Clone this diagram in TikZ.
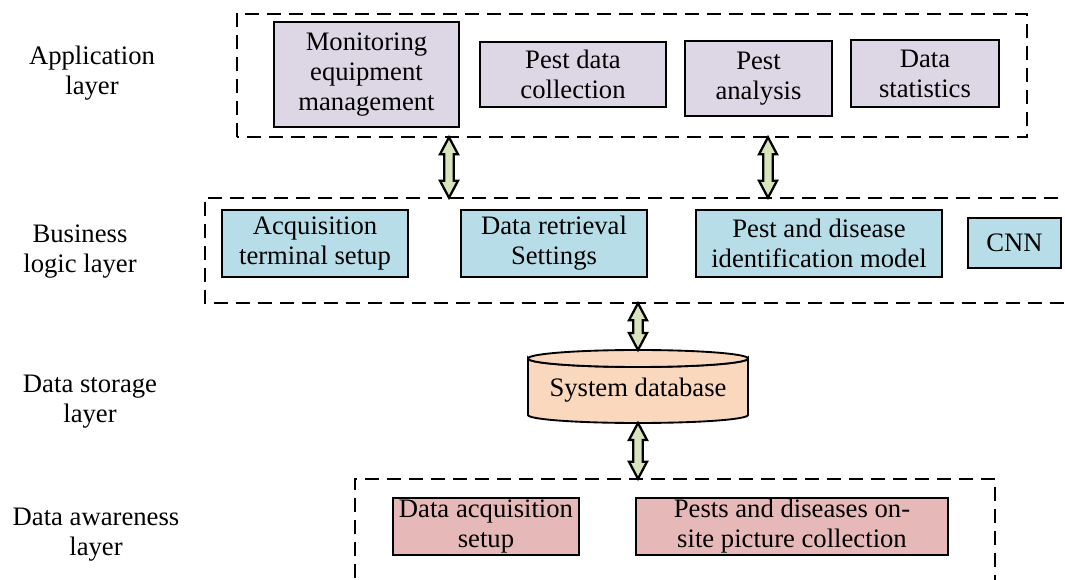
\documentclass[tikz,border=0pt]{standalone}
\usepackage{fontspec}
\setmainfont{Liberation Serif}
\usetikzlibrary{fit,calc}
\definecolor{appc}{RGB}{221,215,229}
\definecolor{busc}{RGB}{183,222,232}
\definecolor{dbc}{RGB}{250,216,190}
\definecolor{awc}{RGB}{230,185,184}
\definecolor{arrc}{RGB}{216,228,188}
\tikzset{
  every node/.style={font=\fontsize{20}{22.5}\selectfont},
  pbox/.style={draw=black, line width=1.4pt, inner sep=0pt, align=center},
  appbox/.style={pbox, fill=appc},
  busbox/.style={pbox, fill=busc},
  awbox/.style={pbox, fill=awc},
  layerbox/.style={inner sep=0pt},
  dashbox/.style={draw=black, line width=1.8pt, dash pattern=on 10.5pt off 6pt},
  arr/.style={draw=black, line width=1.7pt, fill=arrc, line join=miter},
  lbl/.style={align=center},
  cyl/.style={draw=black, line width=1.4pt, fill=dbc}
}
% name, center, width(px), height(px), style, text
\newcommand\boxat[6]{\node[#5, minimum width={#3*0.75pt}, minimum height={#4*0.75pt}] (#1) at (#2) {#6};}
\newcommand\dblarrow[2]{%
  \draw[arr] (#1) -- ++(9,17) -- ++(-4.2,0) -- ($(#2)+(4.8,-17)$) -- ++(4.2,0) -- (#2)
    -- ++(-9,-17) -- ++(4.2,0) -- ($(#1)+(-4.8,17)$) -- ++(-4.2,0) -- cycle;}
\begin{document}
\begin{tikzpicture}[x=0.75pt, y=-0.75pt]
\useasboundingbox (0,0) rectangle (1065,580);

% layer frames
\node[layerbox, fit={(237,14) (1027,137)}] (app) {};
\node[layerbox, fit={(205,198) (1080,303)}] (bus) {};
\node[layerbox, fit={(355,479) (995,600)}] (aw) {};
\draw[dashbox] (app.south west) rectangle (app.north east);
\draw[dashbox] (bus.north east) -- (bus.north west) -- (bus.south west) -- (bus.south east);
\draw[dashbox] (aw.south west) -- (aw.north west) -- (aw.north east) -- (aw.south east);

% layer labels
\node[lbl] (lapp) at (92,73) {Application\\layer};
\node[lbl] (lbus) at (80,252) {Business\\logic layer};
\node[lbl] (lds) at (90,402) {Data storage\\layer};
\node[lbl] (law) at (96,535) {Data awareness\\layer};

% application layer
\boxat{mon}{366.5,74.5}{185}{105}{appbox}{Monitoring\\equipment\\management}
\boxat{pdc}{573,74.5}{186}{65}{appbox}{Pest data\\collection}
\boxat{pa}{758.5,78.5}{147}{75}{appbox}{Pest\\analysis}
\boxat{ds}{925,73.5}{148}{67}{appbox}{Data\\statistics}

% business logic layer
\boxat{acq}{315,243.5}{186}{67}{busbox}{Acquisition\\terminal setup}
\boxat{drs}{554,243.5}{186}{67}{busbox}{Data retrieval\\Settings}
\boxat{pdim}{819,243.5}{246}{67}{busbox}{Pest and disease\\identification model}
\boxat{cnn}{1014.5,243}{93}{50}{busbox}{CNN}

% data storage
\coordinate (dbc) at (638,390);
\coordinate (dbtop) at ($(dbc)+(0,-40)$);
\coordinate (dbbot) at ($(dbc)+(0,33)$);
\draw[cyl] ($(dbc)+(-110,-31.5)$) -- ($(dbc)+(-110,25)$)
  arc[start angle=180, end angle=0, x radius=110, y radius=8]
  -- ($(dbc)+(110,-31.5)$)
  arc[start angle=0, end angle=180, x radius=110, y radius=8.5] -- cycle;
\draw[cyl] ($(dbc)+(0,-31.5)$) ellipse[x radius=110, y radius=8.5];
\node[inner sep=0pt] (db) at (dbc) {System database};

% data awareness layer
\boxat{das}{486,526.5}{186}{57}{awbox}{Data acquisition\\setup}
\boxat{ppc}{792,526.5}{312}{57}{awbox}{Pests and diseases on-\\site picture collection}

% connectors
\coordinate (x1) at (449,0);
\coordinate (x2) at (768,0);
\coordinate (x3) at (638,0);
\coordinate (a1t) at (x1 |- app.south);
\coordinate (a1b) at (x1 |- bus.north);
\coordinate (a2t) at (x2 |- app.south);
\coordinate (a2b) at (x2 |- bus.north);
\coordinate (a3t) at (x3 |- bus.south);
\coordinate (a4b) at (x3 |- aw.north);
\dblarrow{a1t}{a1b}
\dblarrow{a2t}{a2b}
\dblarrow{a3t}{dbtop}
\dblarrow{dbbot}{a4b}
\end{tikzpicture}
\end{document}
